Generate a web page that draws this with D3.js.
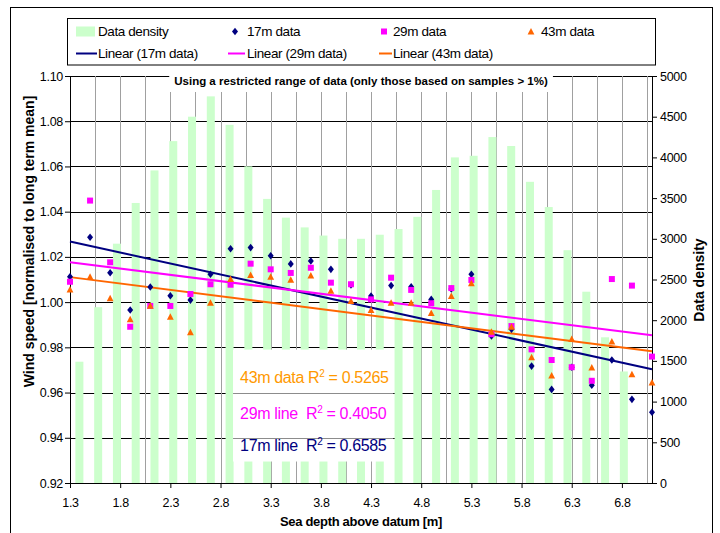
<!DOCTYPE html>
<html><head><meta charset="utf-8">
<script src="https://cdn.jsdelivr.net/npm/d3@7"></script>
<style>
body{margin:0;background:#fff}
svg{display:block}
text{font-family:"Liberation Sans",Arial,sans-serif}
</style>
</head><body>
<svg id="c" width="720" height="533"></svg>
<script>
// ---------------- data ----------------
const depth = [1.3,1.5,1.7,1.9,2.1,2.3,2.5,2.7,2.9,3.1,3.3,3.5,3.7,3.9,4.1,4.3,4.5,4.7,4.9,5.1,5.3,5.5,5.7,5.9,6.1,6.3,6.5,6.7,6.9,7.1];
const wind17 = [1.0112,1.0287,1.0130,0.9965,1.0067,1.0028,1.0009,1.0123,1.0236,1.0241,1.0205,1.0169,1.0182,1.0145,1.0076,1.0027,1.0073,1.0068,1.0012,1.0058,1.0123,0.9850,0.9880,0.9717,0.9614,0.9712,0.9632,0.9744,0.9570,0.9513];
const wind29 = [1.0090,1.0449,1.0176,0.9891,0.9983,0.9983,1.0036,1.0079,1.0077,1.0170,1.0145,1.0129,1.0152,1.0086,1.0079,1.0012,1.0108,1.0054,0.9995,1.0062,1.0098,0.9858,0.9894,0.9791,0.9744,0.9712,0.9652,1.0102,1.0073,0.9759];
const wind43 = [1.0055,1.0112,1.0017,0.9924,0.9983,0.9935,0.9866,0.9997,1.0102,1.0120,1.0112,1.0098,1.0117,1.0050,1.0005,0.9965,0.9997,0.9997,0.9951,1.0027,1.0083,0.9869,0.9891,0.9756,0.9675,0.9836,0.9710,0.9825,0.9681,0.9644];
const densityBins = ["1.3","1.5","1.7","1.9","2.1","2.3","2.5","2.7","2.9","3.1","3.3","3.5","3.7","3.9","4.1","4.3","4.5","4.7","4.9","5.1","5.3","5.5","5.7","5.9","6.1","6.3","6.5","6.7","6.9","7.1","7.3"];
const densityValues = [1490,2160,2940,3440,3840,4200,4500,4750,4400,3890,3490,3260,3140,3040,3000,3000,3050,3120,3270,3600,4000,4020,4250,4140,3700,3390,2860,2350,1790,1370,0];
const xTicks = [1.3,1.8,2.3,2.8,3.3,3.8,4.3,4.8,5.3,5.8,6.3,6.8];
const xGrid = [1.55,1.8,2.05,2.3,2.55,2.8,3.05,3.3,3.55,3.8,4.05,4.3,4.55,4.8,5.05,5.3,5.55,5.8,6.05,6.3,6.55,6.8,7.05];
const yTicks = [0.92,0.94,0.96,0.98,1.00,1.02,1.04,1.06,1.08,1.10];
const y2Ticks = [0,500,1000,1500,2000,2500,3000,3500,4000,4500,5000];
const r2Labels = [
  {pre:"43m data R", post:" = 0.5265", color:"#FF9900"},
  {pre:"29m line  R", post:" = 0.4050", color:"#FF00FF"},
  {pre:"17m line  R", post:" = 0.6585", color:"#000080"}
];
const titleText = "Using a restricted range of data (only those based on samples > 1%)";

// ---------------- setup ----------------
const svg = d3.select("#c");
const L = 70, R = 652, T = 76, B = 483;
const x = d3.scaleLinear().domain([1.3,7.1]).range([L,R]);
const y = d3.scaleLinear().domain([0.92,1.10]).range([B,T]);
const y2 = d3.scaleLinear().domain([0,5000]).range([B,T]);
const xb = d3.scaleBand().domain(densityBins).range([L,R]).paddingInner(0.574).paddingOuter(0.287);

const C17 = "#000080", C29 = "#FF00FF", C43 = "#FF6600";
const diamond = "M0,-3.8L3,0L0,3.8L-3,0Z";
const square = "M-3,-3H3V3H-3Z";
const triangle = "M0,-3.6L3.4,2.9L-3.4,2.9Z";

// outer frame
svg.append("rect").attr("x",10.5).attr("y",7.5).attr("width",702).attr("height",540)
  .attr("fill","#fff").attr("stroke","#000");

// horizontal gridlines
svg.append("g").selectAll("line").data(yTicks.filter(d=>d>0.92)).join("line")
  .attr("x1",L).attr("x2",R)
  .attr("y1",d=>Math.round(y(d))+0.5).attr("y2",d=>Math.round(y(d))+0.5)
  .attr("stroke","#000").attr("stroke-width",1);

// vertical gridlines
svg.append("g").selectAll("line").data(xGrid).join("line")
  .attr("x1",d=>Math.round(x(d))+0.5).attr("x2",d=>Math.round(x(d))+0.5)
  .attr("y1",T).attr("y2",B)
  .attr("stroke","#a0a0a0").attr("stroke-width",1);

// density bars
svg.append("g").selectAll("rect").data(densityValues).join("rect")
  .attr("x",(d,i)=>xb(densityBins[i]))
  .attr("width",xb.bandwidth())
  .attr("y",d=>y2(d))
  .attr("height",d=>B-y2(d))
  .attr("fill","#CCFFCC");

// axes
function styleAxis(g){
  g.attr("font-family",null).attr("font-size",null);
  g.selectAll("path.domain").attr("stroke","#000");
  g.selectAll(".tick line").attr("stroke","#000");
  g.selectAll(".tick text").attr("fill","#000").style("font-size","12.5px").style("letter-spacing","-0.3px");
}
svg.append("g").attr("transform",`translate(${L},0)`)
  .call(d3.axisLeft(y).tickValues(yTicks).tickFormat(d3.format(".2f")).tickSize(5).tickSizeOuter(0).tickPadding(2))
  .call(styleAxis);
svg.append("g").attr("transform",`translate(${R},0)`)
  .call(d3.axisRight(y2).tickValues(y2Ticks).tickFormat(d3.format("d")).tickSize(5).tickSizeOuter(0).tickPadding(3))
  .call(styleAxis);
svg.append("g").attr("transform",`translate(0,${B})`)
  .call(d3.axisBottom(x).tickValues(xTicks).tickFormat(d3.format(".1f")).tickSize(5).tickSizeOuter(0).tickPadding(10))
  .call(styleAxis);

// trendlines (least squares)
function fit(xs, ys){
  const n = xs.length, mx = d3.mean(xs), my = d3.mean(ys);
  let sxy=0, sxx=0;
  for(let i=0;i<n;i++){ sxy += (xs[i]-mx)*(ys[i]-my); sxx += (xs[i]-mx)**2; }
  const b = sxy/sxx; return {b, a: my - b*mx};
}
const series = [
  {vals:wind17, color:C17, shape:diamond},
  {vals:wind29, color:C29, shape:square},
  {vals:wind43, color:C43, shape:triangle}
];
const xEnds = d3.extent(depth);
series.forEach(s=>{
  const f = fit(depth, s.vals);
  svg.append("path")
    .attr("d", d3.line().x(d=>x(d)).y(d=>y(f.a+f.b*d))(xEnds))
    .attr("stroke", s.color).attr("stroke-width",2).attr("fill","none");
});
// markers
series.forEach(s=>{
  svg.append("g").selectAll("path").data(s.vals).join("path")
    .attr("d", s.shape)
    .attr("transform",(d,i)=>`translate(${x(depth[i])},${y(d)})`)
    .attr("fill", s.color);
});

// title with white background
const titleBg = svg.append("rect").attr("fill","#fff");
const title = svg.append("text")
  .attr("x",(L+R)/2).attr("y",84.5).attr("text-anchor","middle")
  .style("font-size","11.5px").style("font-weight","bold").text(titleText);
const tb = title.node().getBBox();
titleBg.attr("x",tb.x-5).attr("y",67).attr("width",tb.width+10).attr("height",92-67);

// R^2 box
svg.append("rect")
  .attr("x",x(2.925)).attr("y",y(0.979))
  .attr("width",x(4.52)-x(2.925)).attr("height",y(0.9295)-y(0.979))
  .attr("fill","#fff");
svg.append("g").selectAll("line").data([0.96,0.94]).join("line")
  .attr("x1",x(2.925)).attr("x2",x(4.52))
  .attr("y1",d=>Math.round(y(d))+0.5).attr("y2",d=>Math.round(y(d))+0.5)
  .attr("stroke","#8c8c8c");
const r2Base = [382.5, 419, 450.5];
r2Labels.forEach((d,i)=>{
  const t = svg.append("text").attr("x",x(2.995)).attr("y",r2Base[i])
    .attr("fill",d.color).style("font-size","16px").style("letter-spacing","-0.35px")
    .style("white-space","pre");
  t.append("tspan").text(d.pre);
  t.append("tspan").attr("dy",-6).style("font-size","10px").text("2");
  t.append("tspan").attr("dy",6).text(d.post);
});

// legend
svg.append("rect").attr("x",67.5).attr("y",18.5).attr("width",588).attr("height",46.5)
  .attr("fill","#fff").attr("stroke","#000");
const r1 = 31.5, r2 = 53.5;
const lg = svg.append("g").style("font-size","13.5px");
lg.append("rect").attr("x",76).attr("y",r1-5).attr("width",19).attr("height",10).attr("fill","#CCFFCC");
lg.append("path").attr("d",diamond).attr("transform",`translate(235,${r1})`).attr("fill",C17);
lg.append("path").attr("d",square).attr("transform",`translate(384,${r1})`).attr("fill",C29);
lg.append("path").attr("d",triangle).attr("transform",`translate(531,${r1})`).attr("fill",C43);
[[76,97,C17],[228,245,C29],[379,392,C43]].forEach(([a,b,c])=>{
  lg.append("line").attr("x1",a).attr("x2",b).attr("y1",r2).attr("y2",r2).attr("stroke",c).attr("stroke-width",2);
});
const legendText = [
  ["Data density",98,r1],["17m data",247,r1],["29m data",393,r1],["43m data",541,r1],
  ["Linear (17m data)",98,r2],["Linear (29m data)",247,r2],["Linear (43m data)",393,r2]
];
lg.selectAll("text").data(legendText).join("text")
  .attr("x",d=>d[1]).attr("y",d=>d[2]+4.8).style("letter-spacing","-0.4px").text(d=>d[0]);

// axis titles
svg.append("text").attr("transform","translate(34,241.5) rotate(-90)")
  .attr("text-anchor","middle").style("font-size","14px").style("font-weight","bold")
  .text("Wind speed [normalised to long term mean]");
svg.append("text").attr("transform","translate(704,280) rotate(-90)")
  .attr("text-anchor","middle").style("font-size","14px").style("font-weight","bold")
  .text("Data density");
svg.append("text").attr("x",(L+R)/2).attr("y",526).attr("text-anchor","middle")
  .style("font-size","13px").style("font-weight","bold").style("letter-spacing","-0.3px")
  .text("Sea depth above datum [m]");
</script>
</body></html>
